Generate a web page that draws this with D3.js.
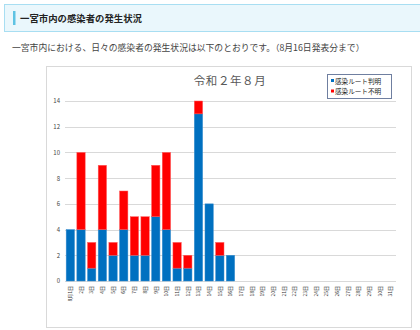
<!DOCTYPE html>
<html><head><meta charset="utf-8">
<script src="https://cdn.jsdelivr.net/npm/d3@7"></script>
<style>
body{margin:0;background:#fff;font-family:"Noto Sans CJK JP","Noto Sans",sans-serif;}
svg{display:block}
</style></head>
<body>
<svg id="c" width="420" height="330"></svg>
<script>
const days = d3.range(1, 32).map(d => d === 1 ? "8月1日" : d + "日");
const known   = [4,4,1,4,2,4,2,2,5,4,1,1,13,6,2,2,0,0,0,0,0,0,0,0,0,0,0,0,0,0,0];
const unknown = [0,6,2,5,1,3,3,3,4,6,2,1,1,0,1,0,0,0,0,0,0,0,0,0,0,0,0,0,0,0,0];
const seriesNames = ["感染ルート判明", "感染ルート不明"];
const yTicks = [0,2,4,6,8,10,12,14];
const colors = ["#0070c0", "#ff0000"];

const svg = d3.select("#c");
const font = '"Noto Sans CJK JP","Noto Sans",sans-serif';

// header
svg.append("rect").attr("x",4.5).attr("y",4.5).attr("width",430).attr("height",27)
  .attr("fill","#eaf7fc").attr("stroke","#a8def2");
svg.append("rect").attr("x",13).attr("y",11).attr("width",2.5).attr("height",14).attr("fill","#5ec3e3");
svg.append("text").attr("x",20).attr("y",21.5).attr("font-size",9.4).attr("font-weight","bold")
  .attr("fill","#222").attr("font-family",font).text("一宮市内の感染者の発生状況");
svg.append("text").attr("x",12).attr("y",51).attr("font-size",8.8)
  .attr("fill","#444").attr("font-family",font)
  .text("一宮市内における、日々の感染者の発生状況は以下のとおりです。（8月16日発表分まで）");

// chart frame
svg.append("rect").attr("x",46.5).attr("y",66.5).attr("width",365).attr("height",261)
  .attr("fill","#fff").attr("stroke","#d9d9d9");

svg.append("text").attr("x",230).attr("y",85).attr("text-anchor","middle").attr("font-size",11.5)
  .attr("letter-spacing",0.6).attr("fill","#595959").attr("font-family",font).text("令和２年８月");

const x = d3.scaleBand().domain(days).range([65, 396]).paddingInner(0.22).paddingOuter(0.11);
const y = d3.scaleLinear().domain([0, 14]).range([281, 101]);

svg.append("g").selectAll("line").data(yTicks).join("line")
  .attr("x1",65).attr("x2",396).attr("y1",d=>Math.round(y(d))+0.5).attr("y2",d=>Math.round(y(d))+0.5)
  .attr("stroke","#d9d9d9").attr("stroke-width",1);

const yAxis = d3.axisLeft(y).tickValues(yTicks).tickSize(0).tickPadding(0);
const ya = svg.append("g").attr("transform","translate(60,0)").call(yAxis);
ya.select(".domain").remove();
ya.selectAll("text").attr("font-size",6).attr("fill","#444").attr("font-family",font);

const rows = days.map((d,i)=>({day:d, k:known[i], u:unknown[i]}));
const stack = d3.stack().keys(["k","u"])(rows);
const sc = ["#3a8fd0", "#ff5a5a"];
svg.append("g").selectAll("g").data(stack).join("g")
  .attr("fill",(d,i)=>colors[i]).attr("stroke",(d,i)=>sc[i]).attr("stroke-width",0.5)
  .selectAll("rect").data(d=>d).join("rect")
  .attr("x",d=>x(d.data.day)).attr("width",x.bandwidth())
  .attr("y",d=>y(d[1])).attr("height",d=>y(d[0])-y(d[1]));

const xAxis = d3.axisBottom(x).tickSize(0).tickPadding(0);
const xa = svg.append("g").attr("transform","translate(0,286)").call(xAxis);
xa.select(".domain").remove();
xa.selectAll("text").attr("font-size",5).attr("fill","#333").attr("font-family",font)
  .attr("text-anchor","end").attr("dy","0.35em")
  .attr("transform","rotate(-90)").attr("x",0).attr("y",0);

// legend
const lg = svg.append("g");
lg.append("rect").attr("x",327.5).attr("y",74.5).attr("width",64).attr("height",24)
  .attr("fill","#fff").attr("stroke","#6f7fa0");
seriesNames.forEach((n,i)=>{
  lg.append("rect").attr("x",331).attr("y",79+i*10.5).attr("width",3).attr("height",3).attr("fill",colors[i]);
  lg.append("text").attr("x",335).attr("y",83.5+i*10.5).attr("font-size",6.6).attr("fill","#222")
    .attr("font-family",font).text(n);
});
</script>
</body></html>
